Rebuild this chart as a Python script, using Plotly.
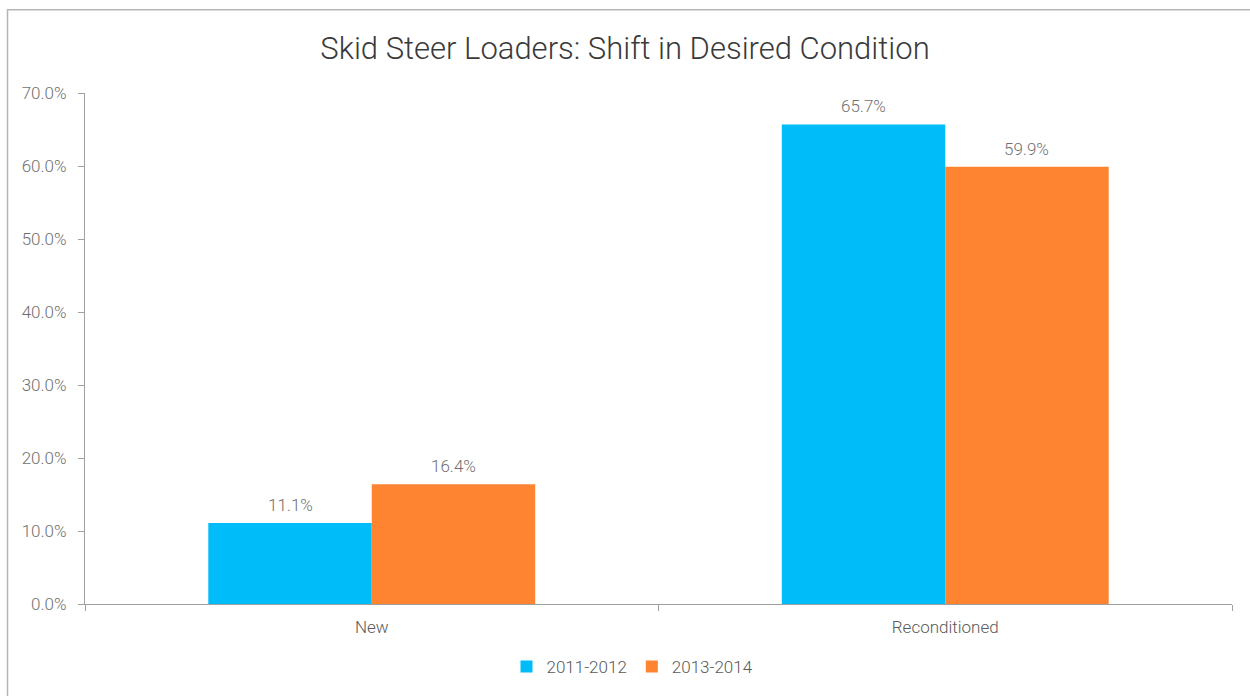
import plotly.graph_objects as go

categories = ["New", "Reconditioned"]
series_names = ["2011-2012", "2013-2014"]
values_2011_2012 = [11.1, 65.7]
values_2013_2014 = [16.4, 59.9]
colors = ["#00BDF9", "#FE8432"]
y_ticks = [0, 10, 20, 30, 40, 50, 60, 70]

FONT = "Roboto"
W, H = 1250, 696
ml, mr, mt, mb = 85, 18, 93, 91
BARGAP = 0.43

fig = go.Figure()
all_series = [values_2011_2012, values_2013_2014]
for name, vals, col in zip(series_names, all_series, colors):
    fig.add_trace(go.Bar(
        x=categories, y=vals, name=name, marker=dict(color=col, line=dict(width=0)),
    ))

# value labels above bars
nser = len(all_series)
for s, vals in enumerate(all_series):
    off = (s - (nser - 1) / 2) * (1 - BARGAP) / nser
    for i, v in enumerate(vals):
        fig.add_annotation(x=i + off, y=v, text=f"{v:.1f}%", showarrow=False,
                           yshift=18, yanchor="middle", xanchor="center",
                           font=dict(family=FONT, size=17, color="#707070", weight=300))

pw = W - ml - mr
ph = H - mt - mb
fig.add_shape(type="rect", xref="paper", yref="paper",
              x0=(7.5 - ml) / pw, x1=(1260 - ml) / pw,
              y0=(H - 710 - mb) / ph, y1=(H - 9.5 - mb) / ph,
              line=dict(color="#b5b5b5", width=1.5), fillcolor="rgba(0,0,0,0)", layer="below")

fig.update_layout(
    width=W, height=H,
    margin=dict(l=ml, r=mr, t=mt, b=mb),
    paper_bgcolor="white", plot_bgcolor="white",
    barmode="group", bargap=BARGAP, bargroupgap=0,
    title=dict(text="Skid Steer Loaders: Shift in Desired Condition", x=0.5, xanchor="center",
               y=1 - 48 / H, yanchor="middle",
               font=dict(family=FONT, size=31, color="#3a3a3a", weight=300)),
    font=dict(family=FONT, color="#6a6a6a", size=17),
    legend=dict(orientation="h", x=0.5 - 26 / pw, xanchor="center", y=(H - 667 - mb) / ph,
                yanchor="middle",
                font=dict(size=17, color="#5a5a5a", family=FONT, weight=300),
                itemwidth=30, traceorder="normal"),
    showlegend=True,
)
fig.update_yaxes(range=[0, 70], tickvals=y_ticks, ticktext=[f"{v:.1f}%" for v in y_ticks],
                 showgrid=False, zeroline=False, showline=True, linecolor="#a0a0a0", linewidth=1,
                 ticks="outside", ticklen=6, tickcolor="#a0a0a0", ticklabelstandoff=8,
                 tickfont=dict(size=17, color="#707070", family=FONT, weight=300))
fig.update_xaxes(showgrid=False, showline=True, linecolor="#a0a0a0", linewidth=1,
                 ticks="outside", ticklen=6, tickcolor="#a0a0a0", tickson="boundaries",
                 ticklabelstandoff=8,
                 tickfont=dict(size=17, color="#5a5a5a", family=FONT, weight=300))

fig.write_html("out.html", config={"displayModeBar": False},
               post_script="document.body.style.margin='0px';document.body.style.overflow='hidden';")
